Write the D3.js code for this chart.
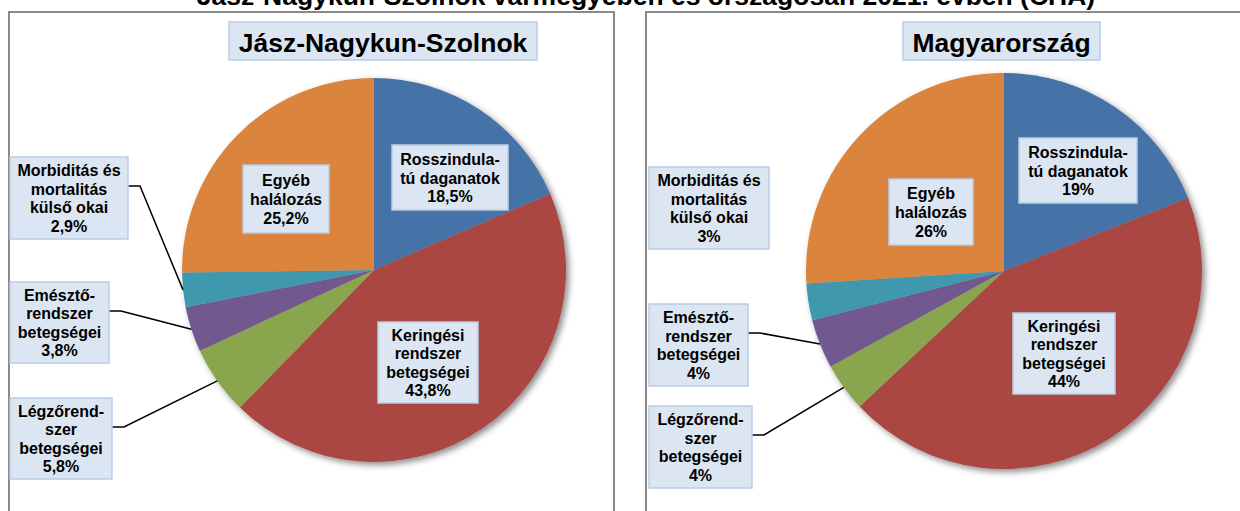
<!DOCTYPE html>
<html>
<head>
<meta charset="utf-8">
<script src="https://cdn.jsdelivr.net/npm/d3@7"></script>
<style>
  html, body { margin: 0; padding: 0; background: #fff; }
  text { font-family: "Liberation Sans", Arial, sans-serif; font-weight: bold; fill: #000; }
</style>
</head>
<body>
<script>
// adatok
const mainTitle = "Jász-Nagykun-Szolnok vármegyében és országosan 2021. évben (CHA)";
const categories = [
  ["Rosszindula-", "tú daganatok"],
  ["Keringési", "rendszer", "betegségei"],
  ["Légzőrend-", "szer", "betegségei"],
  ["Emésztő-", "rendszer", "betegségei"],
  ["Morbiditás és", "mortalitás", "külső okai"],
  ["Egyéb", "halálozás"]
];
const colors = ["#4572A7", "#AA4643", "#89A54E", "#71588F", "#4198AF", "#DB843D"];
const jnszValues = [18.5, 43.8, 5.8, 3.8, 2.9, 25.2];
const huValues = [19, 44, 4, 4, 3, 26];
const panelNames = ["Jász-Nagykun-Szolnok", "Magyarország"];

// elrendezés (dobozok helye: x, y, szélesség, magasság)
const panels = [
  {
    name: panelNames[0], values: jnszValues,
    frame: [9, 12, 605, 530], cx: 374, cy: 270, r: 192,
    titleBox: [229, 22, 308, 38],
    boxes: [[392, 145, 116, 65], [378, 322, 100, 81], [10, 398, 102, 81], [10, 282, 99, 81], [10, 157, 118, 82], [243, 165, 86, 68]],
    leaders: [false, false, true, true, true, false]
  },
  {
    name: panelNames[1], values: huValues,
    frame: [646, 12, 605, 530], cx: 1004, cy: 271, r: 198,
    titleBox: [903, 22, 197, 38],
    boxes: [[1019, 138, 118, 65], [1013, 313, 102, 81], [649, 406, 103, 82], [649, 304, 99, 82], [649, 167, 120, 82], [889, 179, 84, 66]],
    leaders: [false, false, true, true, false, false]
  }
];

const fmt = v => String(v).replace(".", ",") + "%";

const svg = d3.select("body").append("svg")
  .attr("width", 1240)
  .attr("height", 511);

// árnyék
const defs = svg.append("defs");
const filter = defs.append("filter").attr("id", "shadow")
  .attr("x", "-10%").attr("y", "-10%").attr("width", "125%").attr("height", "125%");
filter.append("feDropShadow")
  .attr("dx", 3).attr("dy", 3).attr("stdDeviation", 3)
  .attr("flood-color", "#000").attr("flood-opacity", 0.45);

svg.append("text")
  .attr("x", 646)
  .attr("y", 5)
  .attr("text-anchor", "middle")
  .style("font-size", "26.5px")
  .text(mainTitle);

const pie = d3.pie().sort(null).value(d => d);

panels.forEach(p => {
  const g = svg.append("g");

  // keret
  g.append("rect")
    .attr("x", p.frame[0]).attr("y", p.frame[1])
    .attr("width", p.frame[2]).attr("height", p.frame[3])
    .attr("fill", "none")
    .attr("stroke", "#8a8a8a")
    .attr("stroke-width", 2);

  // cím doboz
  g.append("rect")
    .attr("x", p.titleBox[0]).attr("y", p.titleBox[1])
    .attr("width", p.titleBox[2]).attr("height", p.titleBox[3])
    .attr("fill", "#DCE6F2")
    .attr("stroke", "#B9CDE5")
    .attr("stroke-width", 1.5);
  g.append("text")
    .attr("x", p.titleBox[0] + p.titleBox[2] / 2)
    .attr("y", p.titleBox[1] + 30)
    .attr("text-anchor", "middle")
    .style("font-size", "26.5px")
    .text(p.name);

  const arcs = pie(p.values);
  const arc = d3.arc().innerRadius(0).outerRadius(p.r);
  const edge = d3.arc().innerRadius(p.r).outerRadius(p.r);

  const pieG = g.append("g")
    .attr("transform", `translate(${p.cx},${p.cy})`);

  pieG.append("g")
    .attr("filter", "url(#shadow)")
    .selectAll("path")
    .data(arcs)
    .enter()
    .append("path")
    .attr("d", arc)
    .attr("fill", (d, i) => colors[i]);

  // vezetővonalak
  arcs.forEach((d, i) => {
    if (!p.leaders[i]) return;
    const b = p.boxes[i];
    const c = edge.centroid(d);
    const ly = b[1] + 29;
    const pts = [[b[0] + b[2], ly], [b[0] + b[2] + 12, ly], [p.cx + c[0], p.cy + c[1]]];
    g.append("path")
      .attr("d", d3.line()(pts))
      .attr("fill", "none")
      .attr("stroke", "#000")
      .attr("stroke-width", 1.5);
  });

  // címkék
  arcs.forEach((d, i) => {
    const b = p.boxes[i];
    g.append("rect")
      .attr("x", b[0]).attr("y", b[1])
      .attr("width", b[2]).attr("height", b[3])
      .attr("fill", "#DCE6F2")
      .attr("stroke", "#B9CDE5")
      .attr("stroke-width", 1.5);
    const lines = categories[i].concat([fmt(p.values[i])]);
    const mid = b[1] + b[3] / 2;
    const t = g.append("text")
      .attr("text-anchor", "middle")
      .style("font-size", "16px");
    lines.forEach((s, k) => {
      t.append("tspan")
        .attr("x", b[0] + b[2] / 2)
        .attr("y", mid + (k - (lines.length - 1) / 2) * 18.6 + 6)
        .text(s);
    });
  });
});
</script>
</body>
</html>
